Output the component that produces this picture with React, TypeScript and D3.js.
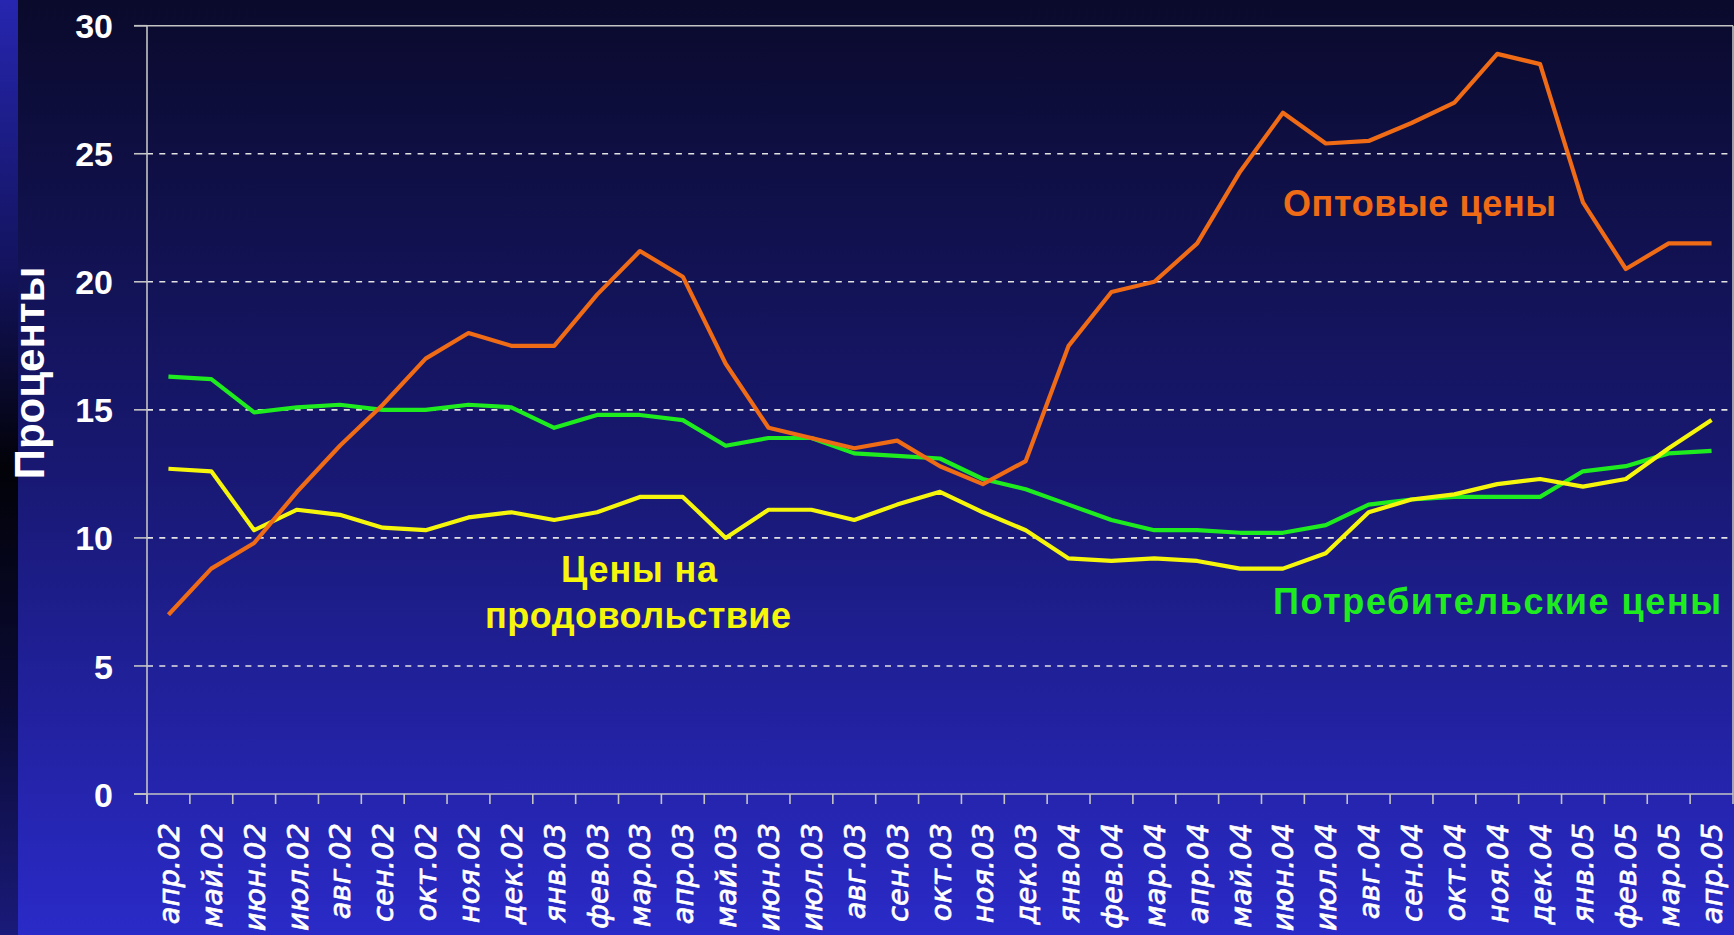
import React from "react";
import * as d3 from "d3";

const MONTHS = [
  "апр.02", "май.02", "июн.02", "июл.02", "авг.02", "сен.02", "окт.02", "ноя.02", "дек.02",
  "янв.03", "фев.03", "мар.03", "апр.03", "май.03", "июн.03", "июл.03", "авг.03", "сен.03", "окт.03", "ноя.03", "дек.03",
  "янв.04", "фев.04", "мар.04", "апр.04", "май.04", "июн.04", "июл.04", "авг.04", "сен.04", "окт.04", "ноя.04", "дек.04",
  "янв.05", "фев.05", "мар.05", "апр.05",
];

const WHOLESALE = [
  7.0, 8.8, 9.8, 11.8, 13.6, 15.2, 17.0, 18.0, 17.5, 17.5, 19.5, 21.2, 20.2, 16.8, 14.3, 13.9, 13.5, 13.8, 12.8,
  12.1, 13.0, 17.5, 19.6, 20.0, 21.5, 24.3, 26.6, 25.4, 25.5, 26.2, 27.0, 28.9, 28.5, 23.1, 20.5, 21.5, 21.5,
];

const CONSUMER = [
  16.3, 16.2, 14.9, 15.1, 15.2, 15.0, 15.0, 15.2, 15.1, 14.3, 14.8, 14.8, 14.6, 13.6, 13.9, 13.9, 13.3, 13.2, 13.1,
  12.3, 11.9, 11.3, 10.7, 10.3, 10.3, 10.2, 10.2, 10.5, 11.3, 11.5, 11.6, 11.6, 11.6, 12.6, 12.8, 13.3, 13.4,
];

const FOOD = [
  12.7, 12.6, 10.3, 11.1, 10.9, 10.4, 10.3, 10.8, 11.0, 10.7, 11.0, 11.6, 11.6, 10.0, 11.1, 11.1, 10.7, 11.3, 11.8,
  11.0, 10.3, 9.2, 9.1, 9.2, 9.1, 8.8, 8.8, 9.4, 11.0, 11.5, 11.7, 12.1, 12.3, 12.0, 12.3, 13.5, 14.6,
];

const Y_TICKS = [0, 5, 10, 15, 20, 25, 30];
const Y_TITLE = "Проценты";
const LABEL_WHOLESALE = "Оптовые цены";
const LABEL_CONSUMER = "Потребительские цены";
const LABEL_FOOD = ["Цены на", "продовольствие"];

const W = 1734;
const H = 935;
const LEFT = 147;
const RIGHT = 1733;
const TOP = 25.7;
const BOTTOM = 794;

const ORANGE = "#ef6b15";
const GREEN = "#1fec1f";
const YELLOW = "#f6f60c";
const AXIS = "#c4c4c4";
const FONT = "'Liberation Sans', Arial, sans-serif";

export default function App() {
  const x = d3.scaleBand<string>().domain(MONTHS).range([LEFT, RIGHT]).paddingInner(0).paddingOuter(0);
  const y = d3.scaleLinear().domain([0, 30]).range([BOTTOM, TOP]);
  const cx = (m: string) => (x(m) as number) + x.bandwidth() / 2;

  const line = d3
    .line<number>()
    .x((_, i) => cx(MONTHS[i]))
    .y((d) => y(d));

  const boundaries = d3.range(MONTHS.length + 1).map((k) => LEFT + k * x.bandwidth());

  return (
    <svg
      width={W}
      height={H}
      style={{ position: "fixed", left: 0, top: 0, display: "block" }}
      xmlns="http://www.w3.org/2000/svg"
    >
      <defs>
        <linearGradient id="bg" x1="0" y1="0" x2="0" y2="1">
          <stop offset="0" stopColor="#0a0a2c" />
          <stop offset="0.5" stopColor="#181872" />
          <stop offset="1" stopColor="#2a2ac8" />
        </linearGradient>
        <linearGradient id="strip" x1="0" y1="0" x2="0" y2="1">
          <stop offset="0" stopColor="#2626b0" />
          <stop offset="0.3" stopColor="#12125a" />
          <stop offset="0.5" stopColor="#020208" />
          <stop offset="0.75" stopColor="#0a0a34" />
          <stop offset="1" stopColor="#1a1a7a" />
        </linearGradient>
      </defs>
      <rect x={0} y={0} width={W} height={H} fill="url(#bg)" />
      <rect x={0} y={0} width={18} height={H} fill="url(#strip)" />

      {/* dashed gridlines */}
      {Y_TICKS.filter((t) => t > 0 && t < 30).map((t) => (
        <line
          key={"g" + t}
          x1={LEFT}
          x2={RIGHT}
          y1={y(t)}
          y2={y(t)}
          stroke="#e2e2e2"
          strokeWidth={1.6}
          strokeDasharray="6,6.3"
        />
      ))}

      {/* plot border top & right */}
      <line x1={134} x2={RIGHT} y1={y(30)} y2={y(30)} stroke={AXIS} strokeWidth={1.6} />
      <line x1={RIGHT} x2={RIGHT} y1={y(30)} y2={y(0)} stroke={AXIS} strokeWidth={1.6} />

      {/* y axis */}
      <line x1={LEFT} x2={LEFT} y1={y(30)} y2={y(0) + 10} stroke={AXIS} strokeWidth={1.6} />
      {Y_TICKS.map((t) => (
        <g key={"yt" + t}>
          <line x1={134} x2={LEFT} y1={y(t)} y2={y(t)} stroke={AXIS} strokeWidth={1.6} />
          <text
            x={113}
            y={y(t)}
            dy="0.37em"
            textAnchor="end"
            fill="#ffffff"
            fontFamily={FONT}
            fontWeight="bold"
            fontSize={34}
          >
            {t}
          </text>
        </g>
      ))}

      {/* x axis */}
      <line x1={134} x2={RIGHT} y1={y(0)} y2={y(0)} stroke={AXIS} strokeWidth={1.6} />
      {boundaries.map((bx, k) => (
        <line key={"xt" + k} x1={bx} x2={bx} y1={y(0)} y2={y(0) + 10} stroke={AXIS} strokeWidth={1.6} />
      ))}
      {MONTHS.map((m) => (
        <text
          key={"xl" + m}
          transform={`translate(${cx(m) + 10.5},823) rotate(-90)`}
          textAnchor="end"
          fill="#ffffff"
          stroke="#ffffff"
          strokeWidth={0.7}
          fontFamily="'DejaVu Sans', sans-serif"
          fontStyle="italic"
          fontSize={29}
        >
          {m}
        </text>
      ))}

      {/* y title */}
      <text
        transform={`translate(44,373) rotate(-90)`}
        textAnchor="middle"
        fill="#ffffff"
        fontFamily={FONT}
        fontWeight="bold"
        fontSize={42}
      >
        {Y_TITLE}
      </text>

      {/* series */}
      <path d={line(CONSUMER) || ""} fill="none" stroke={GREEN} strokeWidth={4.2} strokeLinejoin="round" />
      <path d={line(FOOD) || ""} fill="none" stroke={YELLOW} strokeWidth={4.2} strokeLinejoin="round" />
      <path d={line(WHOLESALE) || ""} fill="none" stroke={ORANGE} strokeWidth={4.2} strokeLinejoin="round" />

      {/* series labels */}
      <text
        x={1283}
        y={216}
        fill={ORANGE}
        fontFamily={FONT}
        fontWeight="bold"
        fontSize={36}
        textLength={273}
        lengthAdjust="spacing"
      >
        {LABEL_WHOLESALE}
      </text>
      <text
        x={1273}
        y={614}
        fill={GREEN}
        fontFamily={FONT}
        fontWeight="bold"
        fontSize={36}
        textLength={448}
        lengthAdjust="spacing"
      >
        {LABEL_CONSUMER}
      </text>
      {LABEL_FOOD.map((s, i) => (
        <text
          key={"lf" + i}
          x={i === 0 ? 561 : 485}
          y={582 + i * 46}
          fill={YELLOW}
          fontFamily={FONT}
          fontWeight="bold"
          fontSize={36}
          textLength={i === 0 ? 156 : 306}
          lengthAdjust="spacing"
        >
          {s}
        </text>
      ))}
    </svg>
  );
}
